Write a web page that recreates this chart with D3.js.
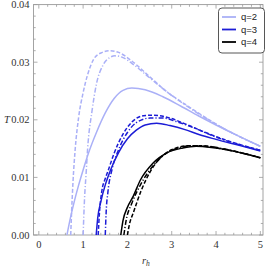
<!DOCTYPE html>
<html><head><meta charset="utf-8">
<script src="https://cdn.jsdelivr.net/npm/d3@7"></script>
<style>body{margin:0;background:#fff}svg{display:block}</style>
</head><body>
<svg id="c" width="266" height="267"></svg>
<script>
// ---- data ----
const seriesNames = ["q=2", "q=3", "q=4"];
const xTicks = [0, 1, 2, 3, 4, 5];
const yTicks = [0.00, 0.01, 0.02, 0.03, 0.04];
const yTickLabels = ["0.00", "0.01", "0.02", "0.03", "0.04"];

const q2SolidR = [0.635,0.7,0.8,0.9,1.0,1.12,1.3,1.5,1.7,1.9,2.1,2.4,2.8,3.2,3.6,4.0,4.5,5.0];
const q2SolidT = [0,0.0025,0.0058,0.0087,0.0113,0.0142,0.0178,0.0212,0.0237,0.0251,0.0255,0.0252,0.0240,0.0224,0.0207,0.0191,0.0172,0.0154];
const q2DashR = [0.72,0.74,0.77,0.82,0.9,1.0,1.1,1.23,1.4,1.6,1.8,2.1,2.5,2.9,3.3,3.7,4.1,4.5,5.0];
const q2DashT = [0,0.004,0.009,0.0148,0.0205,0.0247,0.0278,0.0304,0.0316,0.0320,0.0317,0.0302,0.0275,0.0248,0.0227,0.0207,0.0188,0.0172,0.0154];
const q2DotR = [1.0,1.03,1.07,1.1,1.2,1.3,1.45,1.6,1.72,1.9,2.1,2.5,2.9,3.3,3.7,4.1,4.5,5.0];
const q2DotT = [0,0.006,0.011,0.0148,0.0215,0.0262,0.0295,0.0308,0.0311,0.0308,0.0298,0.0273,0.0248,0.0226,0.0206,0.0188,0.0172,0.0154];

const q3SolidR = [1.295,1.33,1.4,1.5,1.62,1.8,2.0,2.2,2.4,2.66,2.96,3.3,3.63,4.0,4.5,5.0];
const q3SolidT = [0,0.003,0.0058,0.0087,0.0113,0.0143,0.0167,0.0182,0.0191,0.0194,0.0190,0.0183,0.0174,0.0166,0.0156,0.0146];
const q3DashR = [1.34,1.37,1.42,1.5,1.57,1.7,1.9,2.1,2.36,2.6,2.96,3.3,3.7,4.1,4.5,5.0];
const q3DashT = [0,0.004,0.0075,0.0098,0.0113,0.0142,0.0175,0.0196,0.0207,0.0208,0.0203,0.0193,0.0180,0.0168,0.0158,0.0147];
const q3DotR = [1.5,1.52,1.56,1.65,1.8,2.0,2.2,2.51,2.8,3.1,3.5,3.9,4.3,4.7,5.0];
const q3DotT = [0,0.004,0.0075,0.0113,0.0148,0.0178,0.0195,0.0203,0.0203,0.0197,0.0186,0.0173,0.0162,0.0153,0.0147];

const q4SolidR = [1.85,1.9,2.0,2.13,2.29,2.58,2.9,3.25,3.55,3.9,4.38,5.0];
const q4SolidT = [0,0.0025,0.0048,0.0067,0.0095,0.0125,0.0143,0.0151,0.0154,0.0152,0.0146,0.0134];
const q4DashR = [2.0,2.05,2.13,2.3,2.5,2.8,3.1,3.4,3.7,4.1,4.5,5.0];
const q4DashT = [0,0.002,0.0038,0.0075,0.0108,0.0138,0.0151,0.0155,0.0155,0.0150,0.0144,0.0134];
const q4DotR = [1.92,1.97,2.1,2.3,2.6,2.9,3.2,3.5,3.9,4.4,5.0];
const q4DotT = [0,0.0025,0.0055,0.0088,0.0122,0.0143,0.0152,0.0155,0.0153,0.0146,0.0134];

// ---- styles ----
const colors = ["#aab0f7", "#1c1cd6", "#000000"];
const dashes = {solid: null, dash: "4,2", dot: "5,2,1.2,2"};

const curves = [
  {r: q2SolidR, t: q2SolidT, c: 0, d: "solid"},
  {r: q2DashR, t: q2DashT, c: 0, d: "dash"},
  {r: q2DotR, t: q2DotT, c: 0, d: "dot"},
  {r: q3SolidR, t: q3SolidT, c: 1, d: "solid"},
  {r: q3DashR, t: q3DashT, c: 1, d: "dash"},
  {r: q3DotR, t: q3DotT, c: 1, d: "dot"},
  {r: q4SolidR, t: q4SolidT, c: 2, d: "solid"},
  {r: q4DashR, t: q4DashT, c: 2, d: "dash"},
  {r: q4DotR, t: q4DotT, c: 2, d: "dot"}
];

const svg = d3.select("#c");
const L = 33.5, R = 263, T = 4.6, B = 235;
const x = d3.scaleLinear().domain([-0.12, 5.06]).range([L, R]);
const y = d3.scaleLinear().domain([0, 0.04]).range([B, T]);
const axisCol = "#9a9a9a";
const serif = "'Liberation Serif','DejaVu Serif',serif";

// frame ticks
const xMinor = d3.range(0, 5.01, 0.2).filter(v => Math.abs(v - Math.round(v)) > 1e-6);
const yMinor = d3.range(0, 0.0401, 0.002).filter(v => Math.abs(v*100 - Math.round(v*100)) > 1e-6);
const g = svg.append("g");
function tickLines(vals, len, isX, edge) {
  vals.forEach(v => {
    if (isX) {
      const px = x(v);
      if (edge === "b") g.append("line").attr("x1", px).attr("x2", px).attr("y1", B).attr("y2", B - len);
      else g.append("line").attr("x1", px).attr("x2", px).attr("y1", T).attr("y2", T + len);
    } else {
      const py = y(v);
      if (edge === "l") g.append("line").attr("x1", L).attr("x2", L + len).attr("y1", py).attr("y2", py);
      else g.append("line").attr("x1", R).attr("x2", R - len).attr("y1", py).attr("y2", py);
    }
  });
}
tickLines(xTicks, 4, true, "b"); tickLines(xMinor, 2.2, true, "b");
tickLines(xTicks, 4, true, "t"); tickLines(xMinor, 2.2, true, "t");
tickLines(yTicks, 4, false, "l"); tickLines(yMinor, 2.2, false, "l");
tickLines(yTicks, 4, false, "r"); tickLines(yMinor, 2.2, false, "r");
g.selectAll("line").attr("stroke", axisCol).attr("stroke-width", 0.8);
svg.append("rect").attr("x", L).attr("y", T).attr("width", R - L).attr("height", B - T)
  .attr("fill", "none").attr("stroke", axisCol).attr("stroke-width", 0.9);

// tick labels
svg.selectAll(".xl").data(xTicks).enter().append("text")
  .attr("x", d => x(d)).attr("y", 248).attr("text-anchor", "middle")
  .attr("font-family", serif).attr("font-size", 10.5).attr("fill", "#333").text(d => d);
svg.selectAll(".yl").data(yTicks).enter().append("text")
  .attr("x", 29.5).attr("y", d => y(d) + 3.6).attr("text-anchor", "end")
  .attr("font-family", serif).attr("font-size", 10.5).attr("fill", "#333")
  .text((d, i) => yTickLabels[i]);

// axis labels
svg.append("text").attr("x", 4).attr("y", 123).attr("font-family", serif)
  .attr("font-style", "italic").attr("font-size", 10.5).attr("fill", "#333").text("T");
const xl = svg.append("text").attr("x", 142).attr("y", 264).attr("font-family", serif)
  .attr("font-style", "italic").attr("font-size", 10.5).attr("fill", "#333");
xl.append("tspan").text("r");
xl.append("tspan").attr("font-size", 7.5).attr("dy", 2).text("h");

// curves
const clip = svg.append("clipPath").attr("id", "cp").append("rect")
  .attr("x", L).attr("y", T).attr("width", R - L).attr("height", B - T);
const line = d3.line().x(d => x(d[0])).y(d => y(d[1])).curve(d3.curveMonotoneX);
const cg = svg.append("g").attr("clip-path", "url(#cp)");
curves.forEach(cv => {
  const pts = cv.r.map((r, i) => [r, cv.t[i]]);
  cg.append("path").attr("d", line(pts)).attr("fill", "none")
    .attr("stroke", colors[cv.c]).attr("stroke-width", 1.5)
    .attr("stroke-dasharray", dashes[cv.d]);
});

// legend
const lg = svg.append("g");
lg.append("rect").attr("x", 218.5).attr("y", 8).attr("width", 46).attr("height", 45)
  .attr("rx", 3.5).attr("fill", "#fff").attr("stroke", "#444").attr("stroke-width", 0.9);
seriesNames.forEach((n, i) => {
  const yy = 17 + i * 12.5;
  lg.append("line").attr("x1", 222).attr("x2", 236).attr("y1", yy).attr("y2", yy)
    .attr("stroke", colors[i]).attr("stroke-width", 1.8);
  lg.append("text").attr("x", 241).attr("y", yy + 3.3)
    .attr("font-family", "'Liberation Sans','DejaVu Sans',sans-serif").attr("font-size", 9.5)
    .attr("fill", "#222").text(n);
});
</script>
</body></html>
